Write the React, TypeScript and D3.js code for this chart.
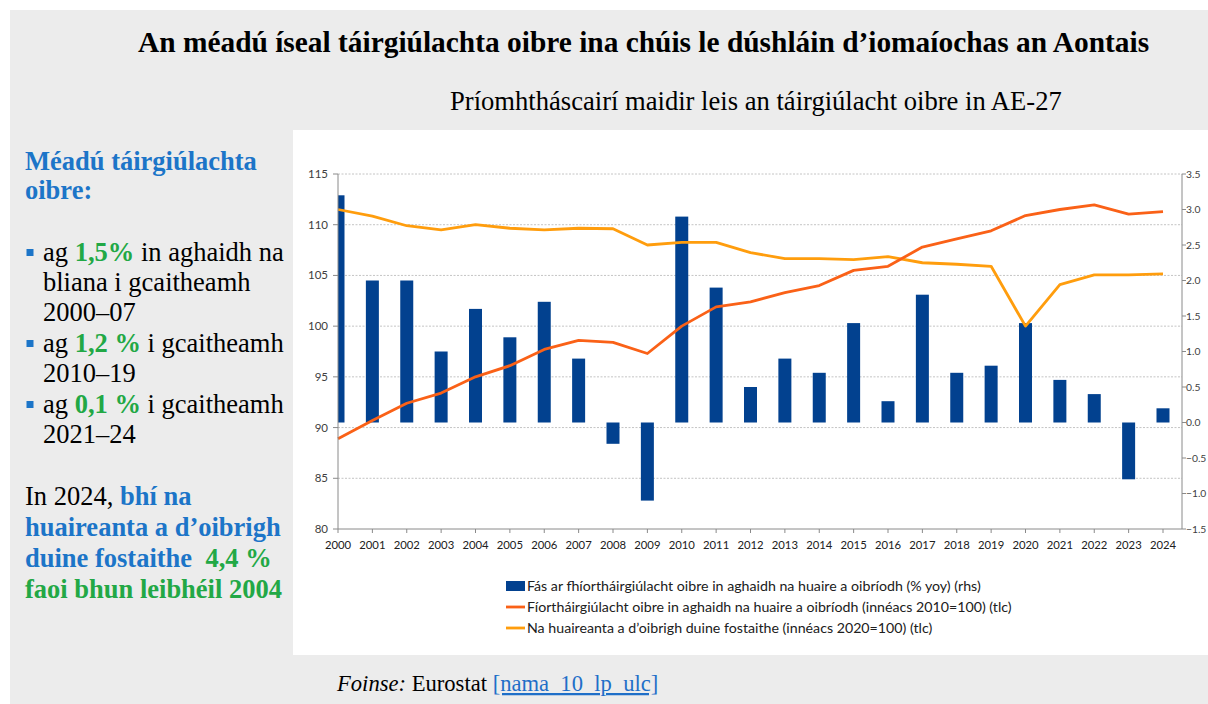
import React from "react";
import * as d3 from "d3";

const years = [2000,2001,2002,2003,2004,2005,2006,2007,2008,2009,2010,2011,2012,2013,2014,2015,2016,2017,2018,2019,2020,2021,2022,2023,2024];
const growth = [3.2,2.0,2.0,1.0,1.6,1.2,1.7,0.9,-0.3,-1.1,2.9,1.9,0.5,0.9,0.7,1.4,0.3,1.8,0.7,0.8,1.4,0.6,0.4,-0.8,0.2];
const productivity = [88.9,90.7,92.4,93.4,95.0,96.1,97.7,98.6,98.4,97.3,100.0,101.9,102.4,103.3,104.0,105.5,105.9,107.8,108.6,109.4,110.9,111.5,111.95,111.05,111.3];
const hours = [111.5,110.85,109.9,109.5,110.0,109.65,109.5,109.65,109.6,108.0,108.25,108.25,107.25,106.65,106.65,106.55,106.85,106.25,106.1,105.9,100.0,104.1,105.05,105.05,105.15];
const leftTicks = [80,85,90,95,100,105,110,115];
const rightTicks = [-1.5,-1.0,-0.5,0.0,0.5,1.0,1.5,2.0,2.5,3.0,3.5];
const legendLabels = [
  "Fás ar fhíortháirgiúlacht oibre in aghaidh na huaire a oibríodh (% yoy) (rhs)",
  "Fíortháirgiúlacht oibre in aghaidh na huaire a oibríodh (innéacs 2010=100) (tlc)",
  "Na huaireanta a d’oibrigh duine fostaithe (innéacs 2020=100) (tlc)",
];
const title = "An méadú íseal táirgiúlachta oibre ina chúis le dúshláin d’iomaíochas an Aontais";
const subtitle = "Príomhtháscairí maidir leis an táirgiúlacht oibre in AE-27";

const BAR = "#02418f";
const PROD = "#fa6117";
const HOURS = "#ff9d0d";
const BLUE = "#1c75c8";
const GREEN = "#22a845";
const SERIF = "'Liberation Serif', 'Times New Roman', serif";
const SANS = "Lato, 'Liberation Sans', Arial, sans-serif";

export default function App() {
  const axL = 338, axR = 1182, top = 174, bottom = 529;
  const x = d3.scaleLinear().domain([2000, 2024]).range([338, 1163]);
  const yL = d3.scaleLinear().domain([80, 115]).range([bottom, top]);
  const yR = d3.scaleLinear().domain([-1.5, 3.5]).range([bottom, top]);
  const barW = 13;
  const lineL = d3.line<number>().x((_, i) => x(years[i])).y((d) => yL(d));

  const bulletLines: { y: number; bullet?: boolean; parts: [string, string, boolean][] }[] = [
    { y: 261, bullet: true, parts: [["ag ", "#000", false], ["1,5%", GREEN, true], [" in aghaidh na", "#000", false]] },
    { y: 291, parts: [["bliana i gcaitheamh", "#000", false]] },
    { y: 321, parts: [["2000–07", "#000", false]] },
    { y: 352, bullet: true, parts: [["ag ", "#000", false], ["1,2 %", GREEN, true], [" i gcaitheamh", "#000", false]] },
    { y: 382, parts: [["2010–19", "#000", false]] },
    { y: 413, bullet: true, parts: [["ag ", "#000", false], ["0,1 %", GREEN, true], [" i gcaitheamh", "#000", false]] },
    { y: 443, parts: [["2021–24", "#000", false]] },
  ];
  const bottomLines: { y: number; parts: [string, string, boolean][] }[] = [
    { y: 505, parts: [["In 2024, ", "#000", false], ["bhí na", BLUE, true]] },
    { y: 536, parts: [["huaireanta a d’oibrigh", BLUE, true]] },
    { y: 567, parts: [["duine fostaithe  ", BLUE, true], ["4,4 %", GREEN, true]] },
    { y: 598, parts: [["faoi bhun leibhéil 2004", GREEN, true]] },
  ];
  const FS = 26.5;

  return (
    <svg width={1208} height={704} style={{ position: "absolute", left: 0, top: 0 }}>
      <defs>
        <clipPath id="plotclip">
          <rect x={axL} y={0} width={axR - axL} height={704} />
        </clipPath>
      </defs>
      <rect x={0} y={0} width={1208} height={704} fill="#ffffff" />
      <rect x={10} y={10} width={1198} height={694} fill="#ececec" />
      <rect x={293} y={130} width={915} height={525} fill="#ffffff" />

      <text x={138} y={52} fontFamily={SERIF} fontWeight="bold" fontSize={29.4} fill="#000">{title}</text>
      <text x={450} y={110} fontFamily={SERIF} fontSize={26.6} fill="#000">{subtitle}</text>

      {/* left panel */}
      <text x={25} y={170} fontFamily={SERIF} fontWeight="bold" fontSize={FS} fill={BLUE}>Méadú táirgiúlachta</text>
      <text x={25} y={199} fontFamily={SERIF} fontWeight="bold" fontSize={FS} fill={BLUE}>oibre:</text>
      {bulletLines.map((l, i) => (
        <g key={"b" + i}>
          {l.bullet && <rect x={26.5} y={l.y - 12} width={7} height={7} fill={BLUE} />}
          <text x={43} y={l.y} fontFamily={SERIF} fontSize={FS} style={{ whiteSpace: "pre" }}>
            {l.parts.map((p, j) => (
              <tspan key={j} fill={p[1]} fontWeight={p[2] ? "bold" : "normal"}>{p[0]}</tspan>
            ))}
          </text>
        </g>
      ))}
      {bottomLines.map((l, i) => (
        <text key={"t" + i} x={25} y={l.y} fontFamily={SERIF} fontSize={FS} style={{ whiteSpace: "pre" }}>
          {l.parts.map((p, j) => (
            <tspan key={j} fill={p[1]} fontWeight={p[2] ? "bold" : "normal"}>{p[0]}</tspan>
          ))}
        </text>
      ))}

      {/* gridlines */}
      {leftTicks.filter((t) => t !== 80).map((t) => (
        <line key={"g" + t} x1={axL} x2={axR} y1={yL(t)} y2={yL(t)} stroke="#c4c4c4" strokeWidth={1} strokeDasharray="2,1.5" />
      ))}

      {/* bars */}
      <g clipPath="url(#plotclip)">
        {growth.map((v, i) => (
          <rect key={"bar" + i} x={x(years[i]) - barW / 2} width={barW} y={yR(Math.max(0, v))} height={Math.abs(yR(v) - yR(0))} fill={BAR} />
        ))}
      </g>

      {/* lines */}
      <path d={lineL(hours) || ""} fill="none" stroke={HOURS} strokeWidth={2.8} strokeLinejoin="round" />
      <path d={lineL(productivity) || ""} fill="none" stroke={PROD} strokeWidth={2.8} strokeLinejoin="round" />

      {/* axes */}
      <line x1={axL} x2={axL} y1={top} y2={bottom} stroke="#8a8a8a" />
      <line x1={axR} x2={axR} y1={top} y2={bottom} stroke="#8a8a8a" />
      <line x1={axL} x2={axR} y1={bottom} y2={bottom} stroke="#8a8a8a" />
      {leftTicks.map((t) => (
        <g key={"lt" + t}>
          <line x1={axL - 5} x2={axL} y1={yL(t)} y2={yL(t)} stroke="#8a8a8a" />
          <text x={328} y={yL(t)} dy="0.35em" textAnchor="end" fontFamily={SANS} fontSize={11.5} fill="#404040">{t}</text>
        </g>
      ))}
      {rightTicks.map((t) => (
        <g key={"rt" + t}>
          <line x1={axR} x2={axR + 4} y1={yR(t)} y2={yR(t)} stroke="#8a8a8a" />
          <text x={1186} y={yR(t)} dy="0.35em" fontFamily={SANS} fontSize={10.3} fill="#404040">{d3.format(".1f")(t)}</text>
        </g>
      ))}
      {years.map((yr) => (
        <g key={"xt" + yr}>
          <line x1={x(yr)} x2={x(yr)} y1={bottom} y2={bottom + 4} stroke="#8a8a8a" />
          <text x={x(yr)} y={549} textAnchor="middle" fontFamily={SANS} fontSize={11.3} fill="#202020">{yr}</text>
        </g>
      ))}

      {/* legend */}
      <rect x={506} y={581} width={19} height={10} fill={BAR} />
      <line x1={506} x2={525} y1={607} y2={607} stroke={PROD} strokeWidth={2.8} />
      <line x1={506} x2={525} y1={628} y2={628} stroke={HOURS} strokeWidth={2.8} />
      {legendLabels.map((l, i) => (
        <text key={"lg" + i} x={527} y={586 + i * 21} dy="0.35em" fontFamily={SANS} fontSize={14.2} fill="#202020">{l}</text>
      ))}

      {/* source */}
      <text x={337} y={691} fontFamily={SERIF} fontSize={22.6} fill="#000">
        <tspan fontStyle="italic">Foinse:</tspan>
        <tspan> Eurostat </tspan>
        <tspan fill="#1f6fc8" style={{ textDecoration: "underline" }}>[nama_10_lp_ulc]</tspan>
      </text>
    </svg>
  );
}
